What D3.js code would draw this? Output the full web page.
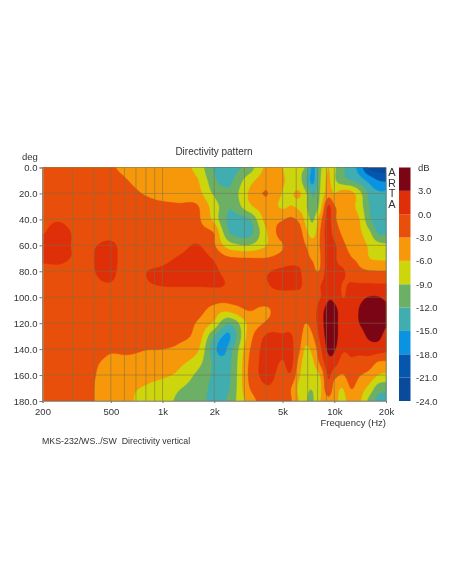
<!DOCTYPE html>
<html>
<head>
<meta charset="utf-8">
<script src="https://cdn.jsdelivr.net/npm/d3@7"></script>
<style>
  body { margin: 0; background: #fff; }
  svg { display: block; filter: blur(0.45px); }
  text { font-family: "Liberation Sans", Arial, sans-serif; fill: #333; white-space: pre; }
</style>
</head>
<body>
<div id="chart"></div>
<script>
// measured frequencies (Hz) and angles (deg) of the dB grid
var freqs = [200,250,315,400,500,630,800,1000,1250,1600,2000,2250,2500,3150,4000,5000,5600,6300,6800,7500,8250,9200,10000,11200,12500,14000,16000,18000,20000];
var angles = [0,10,20,30,40,50,60,70,80,90,100,110,120,130,140,150,160,170,180];

// one row per angle, one value per frequency
var dbRows = [
  [-2,-2,-2,-2,-2.7,-3.8,-4.2,-4.5,-5,-7,-12.5,-13.5,-13,-11,-5.5,-6,-7.5,-8.5,-9.5,-16,-10,-6,-8.5,-11.5,-13.5,-16.5,-21.5,-22.5,-22.5],
  [-2,-2,-2,-2,-2,-3,-4,-4.5,-5,-5.8,-11.2,-13,-12.5,-7.5,-4.5,-5.7,-6.8,-8,-12,-16,-9.5,-5.5,-8.5,-11,-12,-13.5,-16,-18,-18.5],
  [-2,-2,-2,-2,-2,-2.4,-3.2,-4,-4.5,-5,-9.5,-10.8,-11,-6,-2.8,-6.2,-6.2,-5.8,-8.5,-12.5,-9,-4.5,-6,-4.5,-5,-8,-13,-14.5,-14.5],
  [-2,-2,-2,-2,-2,-2,-2.2,-2.4,-2.6,-2.8,-7.5,-10,-11.8,-7,-4.5,-6.5,-5.9,-6.8,-8.5,-11.5,-8,0.3,-2.8,-4,-5,-7.5,-12,-14,-14],
  [-0.8,-0.3,-1.5,-2,-2,-2,-2,-2,-2.2,-2.5,-6.8,-11,-12.8,-12.5,-5,-3.3,-2.5,-3.8,-7,-9.5,-4.5,1,-2.5,-4,-4.8,-6,-11.5,-13.5,-13],
  [-0.2,1,-0.6,-1.5,-1.5,-2,-2,-2,-2,-2,-3.2,-9,-12.5,-13.5,-6.5,-1.5,-1,-2,-5,-7.5,-3.2,1.2,-1.5,-3.5,-4.3,-5.5,-8.5,-12.5,-12.5],
  [0.8,1.2,-0.5,-0.2,0.7,-2,-2,-2,-1.2,0.2,-2.7,-6,-8,-9,-6.2,-3.2,-1.5,-1.5,-3,-4.5,-3,1.3,0.5,-2.5,-3.5,-4.5,-6.5,-8,-8.5],
  [0.8,1,-0.5,0,1,-2,-1.5,-0.8,0.3,1.2,-0.3,-2,-2.7,-2.9,-2.9,-2,-1.2,-1.2,-2.4,-3.2,-3.3,1.5,0.5,-2,-2.9,-3.5,-6,-6.5,-6.6],
  [-1.5,-1.2,-2,-0.1,0.8,-2,-0.1,0.4,1,1.2,0.5,-0.5,-1.8,-2,-0.4,0.6,0.8,0.3,-2,-2.6,-2.8,1.5,0.8,0.5,-2,-2.5,-2.8,-2.9,-2.9],
  [-1.5,-1.5,-1.5,-0.6,-0.2,-1.5,-0.3,0.2,0.3,0.3,0.3,0.1,-0.5,-1,-0.2,0.8,0.8,0.5,-1,-1.5,-0.3,1.8,1.8,-0.2,0.3,0.2,0.2,0.1,0.1],
  [-1.5,-1.5,-1.5,-1.5,-1.5,-1.5,-1.5,-1.5,-1.5,-1.5,-1.5,-1.5,-1.5,-1.5,-1,-1,-1,-1,-1,-1,-0.3,2.5,2.2,-0.1,1.2,2.3,3.1,3.1,2.5],
  [-1.5,-1.5,-1.5,-1.5,-1.5,-1.5,-1.5,-1.5,-1.5,-2,-4.2,-5.5,-5,-2.9,-3.6,-1,-1,-1,-1,-1.5,1.5,4,3.9,1.3,1.5,3.1,4,4.2,3.5],
  [-1.5,-1.5,-1.5,-1.5,-1.5,-1.5,-1.5,-1.5,-1.7,-3.3,-6.6,-10.5,-11.5,-5.5,-2.7,-1,-1,-1.5,-3,-1.8,1.5,4.3,4.1,1.3,1.5,3,4.2,4.2,3.3],
  [-1.5,-1.5,-1.5,-1.5,-1.7,-1.7,-1.8,-2,-2.4,-4.2,-11.8,-15.1,-14.8,-5,0.3,0.2,0.2,-2,-4.5,-3.2,0.5,4.2,4.1,1.2,1.5,1.8,3.5,3.6,2.2],
  [-1.5,-1.5,-1.7,-2,-2.7,-2.4,-2.9,-3,-3.6,-5.5,-14,-15.7,-12.9,-3.8,1,0.5,0.6,-2.9,-6.5,-5,-1,3.5,3.3,0.5,0.7,0.8,1.5,1.5,0.8],
  [-1.5,-1.5,-2,-2.7,-3.5,-3.8,-4.2,-4.5,-5.3,-7.7,-12.7,-14.2,-12.2,-3.2,1,-0.2,0.7,-4.5,-8,-6.5,-2.5,1.8,1.5,-1.5,-0.5,-1,-1.5,-3.2,-3.4],
  [-1.5,-1.5,-2,-2.9,-4,-4.5,-5,-5.5,-6.7,-9.7,-12.5,-13,-11.9,-3,0.8,-1,-0.5,-6,-8.3,-7.5,-6,0.3,-2,-3.2,-1.5,-2.8,-4,-6,-6.7],
  [-1.5,-1.5,-2,-3,-4.5,-5.5,-6.3,-7.5,-8.8,-10.5,-12.7,-12.6,-11.5,-3.5,-0.3,-1.5,-3,-7.2,-8.6,-8.8,-7,-0.8,-4.5,-6,-2.9,-4.5,-7,-10.5,-11],
  [-1.5,-1.5,-2,-3,-4.5,-5.6,-7,-8.2,-9.5,-11,-12.8,-12.5,-10.5,-5,-1.5,-2,-2.8,-6.5,-8.7,-9.3,-6.2,-4,-5,-7,-4.5,-5.5,-10,-13,-13]
];

// colour legend, lower edge of each band and its colour
var bandFloors = [-24,-21,-18,-15,-12,-9,-6,-3,0,3];
var bandColors = ["#0a4a9c","#0556ad","#0a93e0","#40adb0","#6cb065","#cdd60c","#f7980a","#e84f0a","#de2f08","#7c0515"];
var dbTicks = [3,0,-3,-6,-9,-12,-15,-18,-21,-24];

var freqTicks = [200,500,1000,2000,5000,10000,20000];
var freqTickLabels = ["200","500","1k","2k","5k","10k","20k"];
var freqGrid = [200,300,400,500,600,700,800,900,1000,2000,3000,4000,5000,6000,7000,8000,9000,10000,20000];
var degTicks = [0,20,40,60,80,100,120,140,160,180];

var svg = d3.select("#chart").append("svg")
  .attr("width", 452)
  .attr("height", 584);

var x = d3.scaleLog().domain([200, 20000]).range([42.5, 386]);
var y = d3.scaleLinear().domain([0, 180]).range([167.5, 401]);
var dbScale = d3.scaleLinear().domain([6, -24]).range([167.5, 401]);

// grid index -> pixel, the columns are not evenly spaced
var colToX = d3.scaleLinear().domain(freqs.map(function(d,i){ return i; })).range(freqs.map(function(d){ return x(d); }));
var rowToY = d3.scaleLinear().domain(angles.map(function(d,i){ return i; })).range(angles.map(function(d){ return y(d); }));

// refine the read grid with catmull-rom so the bands come out rounded
var refine = 5;
var nCols = (freqs.length - 1) * refine + 1;
var nRows = (angles.length - 1) * refine + 1;

function cr(a, b, c, d, t) {
  return 0.5 * (2*b + (c-a)*t + (2*a-5*b+4*c-d)*t*t + (3*b-a-3*c+d)*t*t*t);
}
function at(r, c) {
  r = Math.max(0, Math.min(angles.length - 1, r));
  c = Math.max(0, Math.min(freqs.length - 1, c));
  return dbRows[r][c];
}
function sample(rf, cf) {
  var r = Math.min(Math.floor(rf), angles.length - 2), c = Math.min(Math.floor(cf), freqs.length - 2);
  var col = [-1,0,1,2].map(function(dr){
    return cr(at(r+dr,c-1), at(r+dr,c), at(r+dr,c+1), at(r+dr,c+2), cf - c);
  });
  return cr(col[0], col[1], col[2], col[3], rf - r);
}

var fine = [];
for (var j = 0; j < nRows; j++) {
  for (var i = 0; i < nCols; i++) {
    fine.push(sample(j / refine, i / refine));
  }
}

var contours = d3.contours()
  .size([nCols, nRows])
  .thresholds(bandFloors)(fine);

function ringPath(ring) {
  return "M" + ring.map(function(p){
    // contour points sit half a cell off the grid nodes
    var cx = Math.max(0, Math.min(nCols - 1, p[0] - 0.5)) / refine;
    var cy = Math.max(0, Math.min(nRows - 1, p[1] - 0.5)) / refine;
    return colToX(cx).toFixed(2) + "," + rowToY(cy).toFixed(2);
  }).join("L") + "Z";
}

svg.append("g").selectAll("path")
  .data(contours)
  .enter()
  .append("path")
    .attr("d", function(d){
      return d.coordinates.map(function(poly){ return poly.map(ringPath).join(""); }).join("");
    })
    .attr("fill-rule", "evenodd")
    .style("fill", function(d,i){ return bandColors[i]; })
    .style("stroke", function(d,i){ return bandColors[i]; })
    .style("stroke-width", 0.4);

// grid lines over the map
svg.append("g").selectAll("line")
  .data(freqGrid)
  .enter()
  .append("line")
    .attr("x1", function(d){ return x(d); })
    .attr("x2", function(d){ return x(d); })
    .attr("y1", y(0))
    .attr("y2", y(180))
    .style("stroke", "#7a7248")
    .style("stroke-opacity", 0.55);

svg.append("g").selectAll("line")
  .data(degTicks)
  .enter()
  .append("line")
    .attr("x1", x(200))
    .attr("x2", x(20000))
    .attr("y1", function(d){ return y(d); })
    .attr("y2", function(d){ return y(d); })
    .style("stroke", "#7a7248")
    .style("stroke-opacity", 0.5);

// axes
var yAxis = d3.axisLeft(y).tickValues(degTicks).tickSize(3).tickPadding(2).tickFormat(d3.format(".1f"));
var xAxis = d3.axisBottom(x).tickValues(freqTicks).tickSize(2).tickPadding(5)
  .tickFormat(function(d,i){ return freqTickLabels[i]; });

var yG = svg.append("g").attr("transform", "translate(" + x(200) + ",0)").call(yAxis);
var xG = svg.append("g").attr("transform", "translate(0," + y(180) + ")").call(xAxis);
svg.selectAll(".domain").style("stroke", "#999");
svg.selectAll(".tick line").style("stroke", "#777");
yG.selectAll("text").style("font-size", "9.5px").style("fill", "#333");
xG.selectAll("text").style("font-size", "9.5px").style("fill", "#333");

// colour bar
svg.append("g").selectAll("rect")
  .data(bandFloors)
  .enter()
  .append("rect")
    .attr("x", 399)
    .attr("width", 11.5)
    .attr("y", function(d){ return dbScale(d + 3); })
    .attr("height", function(d){ return dbScale(d) - dbScale(d + 3); })
    .style("fill", function(d,i){ return bandColors[i]; });

svg.append("g").selectAll("text")
  .data(dbTicks)
  .enter()
  .append("text")
    .attr("x", function(d){ return d < 0 ? 416 : 418; })
    .attr("y", function(d){ return dbScale(d) + 3.5; })
    .style("font-size", "9.5px")
    .text(function(d){ return d.toFixed(1); });

// labels
function label(txt, px, py, size, anchor) {
  svg.append("text")
    .attr("x", px)
    .attr("y", py)
    .attr("text-anchor", anchor || "start")
    .style("font-size", size + "px")
    .text(txt);
}

label("Directivity pattern", 214, 155, 10, "middle");
label("deg", 22, 160, 9.5);
label("dB", 418, 171, 9.5);
label("Frequency (Hz)", 386, 426, 9.5, "end");
label("MKS-232/WS../SW  Directivity vertical", 42, 444, 8.8);

svg.append("g").selectAll("text")
  .data(["A","R","T","A"])
  .enter()
  .append("text")
    .attr("x", 392)
    .attr("y", function(d,i){ return 176 + i*10.7; })
    .attr("text-anchor", "middle")
    .style("font-size", "11px")
    .text(function(d){ return d; });
</script>
</body>
</html>
